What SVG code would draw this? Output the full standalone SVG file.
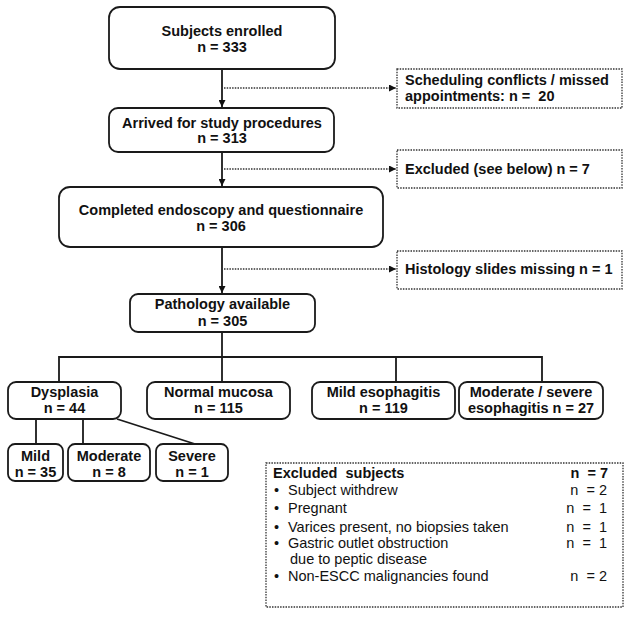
<svg xmlns="http://www.w3.org/2000/svg" width="632" height="617" viewBox="0 0 632 617">
<defs>
<style>
.box{fill:#fff;stroke:#1a1a1a;stroke-width:1.8}
.dbox{fill:#fff;stroke:#333;stroke-width:1.3;stroke-dasharray:1.5 1.2}
.t{font-family:"Liberation Sans",Arial,sans-serif;font-size:14.5px;font-weight:bold;fill:#111;text-anchor:middle}
.tl{font-family:"Liberation Sans",Arial,sans-serif;font-size:14.5px;font-weight:bold;fill:#111}
.r{font-family:"Liberation Sans",Arial,sans-serif;font-size:14.5px;fill:#111;white-space:pre}
.line{fill:none;stroke:#1a1a1a;stroke-width:1.8}
.dline{fill:none;stroke:#333;stroke-width:1.3;stroke-dasharray:1.5 1.2}
</style>
<marker id="ah" viewBox="0 0 10 10" refX="10" refY="5" markerWidth="7" markerHeight="7" markerUnits="userSpaceOnUse" orient="auto">
<path d="M0,0 L10,5 L0,10 z" fill="#111"/>
</marker>
</defs>
<rect width="632" height="617" fill="#fff"/>
<g id="connectors">
<line class="line" x1="222" y1="69" x2="222" y2="107" marker-end="url(#ah)"/>
<line class="line" x1="222" y1="152" x2="222" y2="186" marker-end="url(#ah)"/>
<line class="line" x1="222" y1="247" x2="222" y2="293" marker-end="url(#ah)"/>
<line class="dline" x1="224" y1="88" x2="396" y2="88" marker-end="url(#ah)"/>
<line class="dline" x1="224" y1="169" x2="396" y2="169" marker-end="url(#ah)"/>
<line class="dline" x1="224" y1="269" x2="396" y2="269" marker-end="url(#ah)"/>
<line class="line" x1="222" y1="332" x2="222" y2="382"/>
<polyline class="line" points="59,382 59,357 542,357 542,382"/>
<line class="line" x1="396" y1="357" x2="396" y2="382"/>
<line class="line" x1="36" y1="419" x2="36" y2="444"/>
<line class="line" x1="83" y1="419" x2="83" y2="444"/>
<line class="line" x1="117" y1="419" x2="195" y2="444"/>
</g>
<g id="enrolled">
<rect class="box" x="109" y="7" width="226" height="62" rx="11"/>
<text class="t" x="222" y="36">Subjects enrolled</text>
<text class="t" x="222" y="52">n = 333</text>
</g>
<g id="arrived">
<rect class="box" x="109" y="108" width="225" height="44" rx="9"/>
<text class="t" x="222" y="128">Arrived for study procedures</text>
<text class="t" x="222" y="143">n = 313</text>
</g>
<g id="completed">
<rect class="box" x="59" y="187" width="324" height="60" rx="11"/>
<text class="t" x="221" y="215">Completed endoscopy and questionnaire</text>
<text class="t" x="221" y="231">n = 306</text>
</g>
<g id="pathology">
<rect class="box" x="130" y="294" width="185" height="38" rx="8"/>
<text class="t" x="222.5" y="309">Pathology available</text>
<text class="t" x="222.5" y="326">n = 305</text>
</g>
<g id="scheduling">
<rect class="dbox" x="397" y="69" width="225" height="39"/>
<text class="tl" x="405" y="85">Scheduling conflicts / missed</text>
<text class="tl" x="405" y="101" style="white-space:pre">appointments: n =  20</text>
</g>
<g id="excluded">
<rect class="dbox" x="397" y="150" width="225" height="38"/>
<text class="tl" x="405" y="174">Excluded (see below) n = 7</text>
</g>
<g id="histology">
<rect class="dbox" x="397" y="251" width="225" height="38"/>
<text class="tl" x="405" y="274">Histology slides missing n = 1</text>
</g>
<g id="dysplasia">
<rect class="box" x="8" y="382" width="113" height="37" rx="8"/>
<text class="t" x="64.5" y="397">Dysplasia</text>
<text class="t" x="64.5" y="413">n = 44</text>
</g>
<g id="normal">
<rect class="box" x="147" y="382" width="143" height="37" rx="8"/>
<text class="t" x="218.5" y="397">Normal mucosa</text>
<text class="t" x="218.5" y="413">n = 115</text>
</g>
<g id="mildeso">
<rect class="box" x="312" y="382" width="143" height="37" rx="8"/>
<text class="t" x="383.5" y="397">Mild esophagitis</text>
<text class="t" x="383.5" y="413">n = 119</text>
</g>
<g id="modsev">
<rect class="box" x="459" y="382" width="144" height="37" rx="8"/>
<text class="t" x="531" y="397">Moderate / severe</text>
<text class="t" x="531" y="413">esophagitis n = 27</text>
</g>
<g id="mild">
<rect class="box" x="8" y="444" width="55" height="37" rx="7"/>
<text class="t" x="35.5" y="461">Mild</text>
<text class="t" x="35.5" y="477">n = 35</text>
</g>
<g id="moderate">
<rect class="box" x="68" y="444" width="82" height="37" rx="7"/>
<text class="t" x="109" y="461">Moderate</text>
<text class="t" x="109" y="477">n = 8</text>
</g>
<g id="severe">
<rect class="box" x="156" y="444" width="72" height="37" rx="7"/>
<text class="t" x="192" y="461">Severe</text>
<text class="t" x="192" y="477">n = 1</text>
</g>
<g id="excluded-subjects">
<rect class="dbox" x="266" y="463" width="357" height="144"/>
<text class="tl" x="273" y="478" style="white-space:pre">Excluded  subjects</text>
<text class="tl" x="608" y="478" style="white-space:pre;text-anchor:end">n  = 7</text>
<text class="r" x="274" y="495">•</text>
<text class="r" x="288" y="495">Subject withdrew</text>
<text class="r" x="607" y="495" text-anchor="end">n  = 2</text>
<text class="r" x="274" y="513">•</text>
<text class="r" x="288" y="513">Pregnant</text>
<text class="r" x="607" y="513" text-anchor="end">n  =  1</text>
<text class="r" x="274" y="532">•</text>
<text class="r" x="288" y="532">Varices present, no biopsies taken</text>
<text class="r" x="607" y="532" text-anchor="end">n  =  1</text>
<text class="r" x="274" y="548">•</text>
<text class="r" x="288" y="548">Gastric outlet obstruction</text>
<text class="r" x="607" y="548" text-anchor="end">n  =  1</text>
<text class="r" x="290" y="564">due to peptic disease</text>
<text class="r" x="274" y="581">•</text>
<text class="r" x="288" y="581">Non-ESCC malignancies found</text>
<text class="r" x="607" y="581" text-anchor="end">n  = 2</text>
</g>
</svg>
